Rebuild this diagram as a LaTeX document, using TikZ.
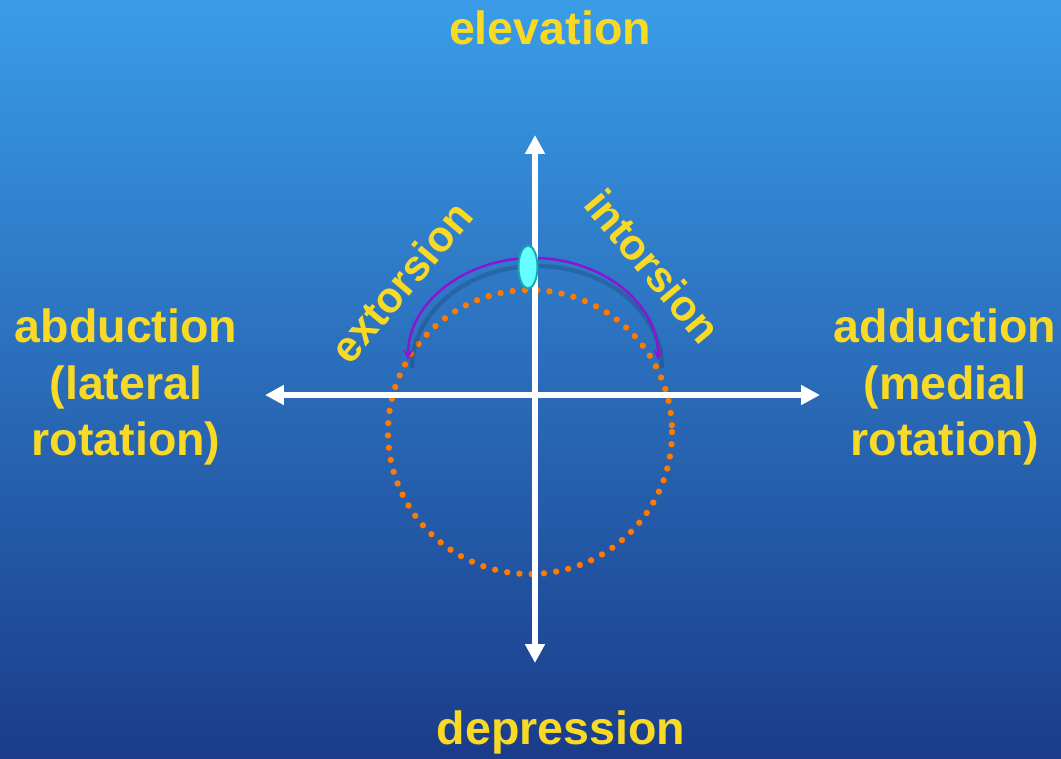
\documentclass[tikz,border=0pt]{standalone}
\usepackage{fontspec}
\setmainfont{Liberation Sans}
\usepackage{xcolor}
\usepackage{tikz}
\usetikzlibrary{arrows.meta,shapes.geometric,positioning}
\definecolor{bgtop}{RGB}{58, 156, 232}
\definecolor{bgmid}{RGB}{40, 108, 192}
\definecolor{bgbottom}{RGB}{26, 60, 138}
\definecolor{labelyellow}{RGB}{248, 218, 38}
\definecolor{torsionviolet}{RGB}{140, 20, 210}
\definecolor{pathorange}{RGB}{255, 122, 0}
\definecolor{eyecyan}{RGB}{102, 255, 255}
\definecolor{eyeteal}{RGB}{22, 170, 170}

\begin{document}
\begin{tikzpicture}[x=0.02cm, y=-0.02cm,
    label/.style={font=\fontsize{26.5}{32}\selectfont\bfseries, text=labelyellow, align=center, inner sep=0pt},
    axis/.style={draw=white, line width=3.4pt, -{Triangle[length=10.8pt, width=10.8pt]}},
    torsion/.style={draw=torsionviolet, line width=1.4pt, {Stealth[length=6pt, width=5.5pt]}-{Stealth[length=6pt, width=5.5pt]}}]
        % Background
        \shade[top color=bgtop, middle color=bgmid, bottom color=bgbottom] (0, 0) rectangle (1061, 758);
        \useasboundingbox (0, 0) rectangle (1061, 758);

        % Axis end points
        \coordinate (origin) at (535, 395);
        \coordinate (up) at (535, 135);
        \coordinate (down) at (535, 663);
        \coordinate (west) at (265, 395);
        \coordinate (east) at (820, 395);

        % Dotted path of the cornea
        \draw[pathorange, line width=3.6pt, line cap=round, dash pattern=on 0pt off 7pt] (530, 432) circle[radius=142];

        % Torsion arc (shadow, then arc)
        \coordinate (extL) at (408, 360);
        \coordinate (extR) at (658, 360);
        \draw[black, opacity=0.15, line width=2.5pt] ([shift={(4,8)}]extL) arc[start angle=180, end angle=360, x radius=125, y radius=102];
        \draw[torsion] (extL) arc[start angle=180, end angle=360, x radius=125, y radius=102];

        % Axes
        \draw[axis] (origin) -- (up);
        \draw[axis] (origin) -- (down);
        \draw[axis] (origin) -- (west);
        \draw[axis] (origin) -- (east);

        % Eye marker
        \node[ellipse, draw=eyeteal, fill=eyecyan, line width=1.1pt, minimum width=10.8pt, minimum height=24.4pt, inner sep=0pt] (eye) at (528, 267) {};

        % Labels
        \node[label] (elev) at (550, 28) {elevation};
        \node[label] (depr) at (561, 732) {depression};
        \node[label] (abd) at (126, 387) {abduction\\(lateral\\rotation)};
        \node[label] (add) at (945, 387) {adduction\\(medial\\rotation)};
        \node[label, font=\fontsize{24.5}{30}\selectfont\bfseries, rotate=50] (ext) at (401, 282) {extorsion};
        \node[label, font=\fontsize{24.5}{30}\selectfont\bfseries, rotate=-50] (int) at (653, 266) {intorsion};
    \end{tikzpicture}
\end{document}
